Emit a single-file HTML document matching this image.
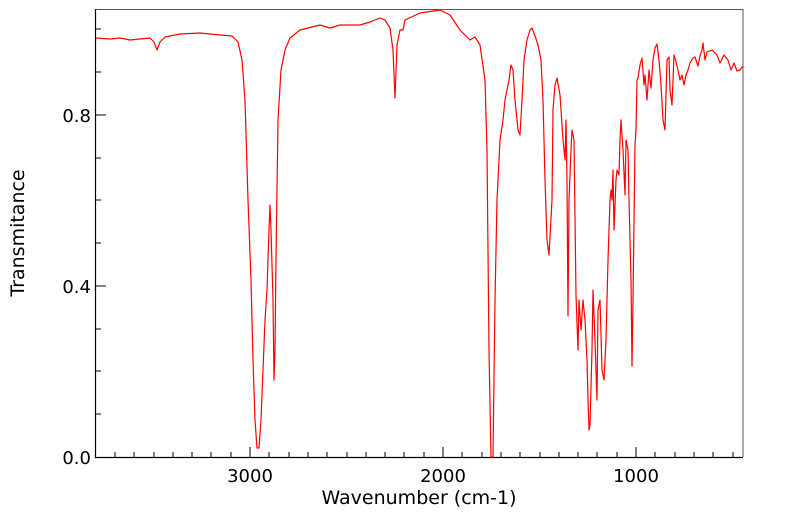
<!DOCTYPE html>
<html><head><style>body{margin:0;background:#fff}svg{display:block}</style></head><body>
<svg width="799" height="516" xmlns="http://www.w3.org/2000/svg" font-family="DejaVu Sans, Liberation Sans, sans-serif">
<rect width="799" height="516" fill="#fff"/>
<path d="M96,9.5H743V457" fill="none" stroke="#555" stroke-width="1"/>
<path d="M95.5,9V457.5H743" fill="none" stroke="#000" stroke-width="1.2"/>
<polyline fill="none" stroke="#ff0000" stroke-width="1.2" stroke-linejoin="round" points="96,38 110,39 120,38 130,40 140,39 150,38 154,42 157,50 160,42 165,37 180,34 200,33 220,35 232,36 238,42 242,60 245,100 248,200 251,280 253,360 255,420 257,448 259,448 261,420 263,370 265,320 267,290 269,230 270,205 271,230 273,300 274,380 275,350 276,260 278,120 281,70 285,50 290,38 300,30 320,25 330,28 340,25 360,25 370,22 380,18 385,20 390,28 393,50 395,98 397,45 400,30 403,30 405,20 420,13 440,10 450,15 460,30 470,40 475,37 480,45 485,80 487,150 489,350 491,457 493,457 495,300 497,200 500,140 503,120 505,100 507,90 509,80 511,65 513,70 515,100 518,130 520,135 522,100 524,60 527,40 530,30 532,28 535,36 538,45 541,60 543,100 545,180 547,240 549,255 550,237 552,200 553,110 555,85 557,78 560,95 563,140 565,160 566,120 567,180 568,316 569,200 571,150 572,130 574,140 576,295 578,350 579,300 581,330 583,300 585,320 587,360 588,400 589,430 590,425 592,350 593,290 595,340 597,400 598,310 600,300 602,370 604,380 606,340 608,260 610,200 611,190 612,200 613,170 614,230 616,180 617,170 619,175 620,140 621,120 623,150 625,195 626,140 628,150 629,200 631,280 632,366 633,300 635,145 636,130 637,80 638,78 640,65 642,58 644,85 645,75 647,100 648,85 649,70 651,88 653,60 655,48 657,44 659,60 661,85 663,120 665,130 667,60 669,57 670,90 672,105 674,55 676,62 678,70 680,80 682,75 684,85 686,75 688,70 690,63 693,58 695,57 698,66 700,56 702,50 703,43 705,60 707,52 712,50 717,55 720,63 724,55 728,60 731,70 734,63 737,71 740,70 743,66"/>
<g font-size="18" fill="#000">
<text x="91" y="464" text-anchor="end">0.0</text>
<text x="91" y="293" text-anchor="end">0.4</text>
<text x="91" y="122" text-anchor="end">0.8</text>
<text x="250" y="482" text-anchor="middle">3000</text>
<text x="443" y="482" text-anchor="middle">2000</text>
<text x="636" y="482" text-anchor="middle">1000</text>
</g>
<g font-size="19" fill="#000">
<text x="419" y="504" text-anchor="middle">Wavenumber (cm-1)</text>
<text transform="translate(24,233) rotate(-90)" text-anchor="middle">Transmitance</text>
</g>
<g stroke="#000" stroke-width="1">
<path d="M115,457v-5M134,457v-5M154,457v-5M173,457v-5M192,457v-5M211,457v-5M231,457v-5M250,447v10M269,457v-5M289,457v-5M308,457v-5M327,457v-5M347,457v-5M366,457v-5M385,457v-5M404,457v-5M424,457v-5M443,447v10M462,457v-5M482,457v-5M501,457v-5M520,457v-5M540,457v-5M559,457v-5M578,457v-5M597,457v-5M617,457v-5M636,447v10M655,457v-5M675,457v-5M694,457v-5M713,457v-5M733,457v-5"/>
<path d="M96,414h5M96,371h5M96,329h5M96,286h10M96,243h5M96,200h5M96,158h5M96,115h10M96,72h5M96,29h5"/>
</g>
</svg>
</body></html>
